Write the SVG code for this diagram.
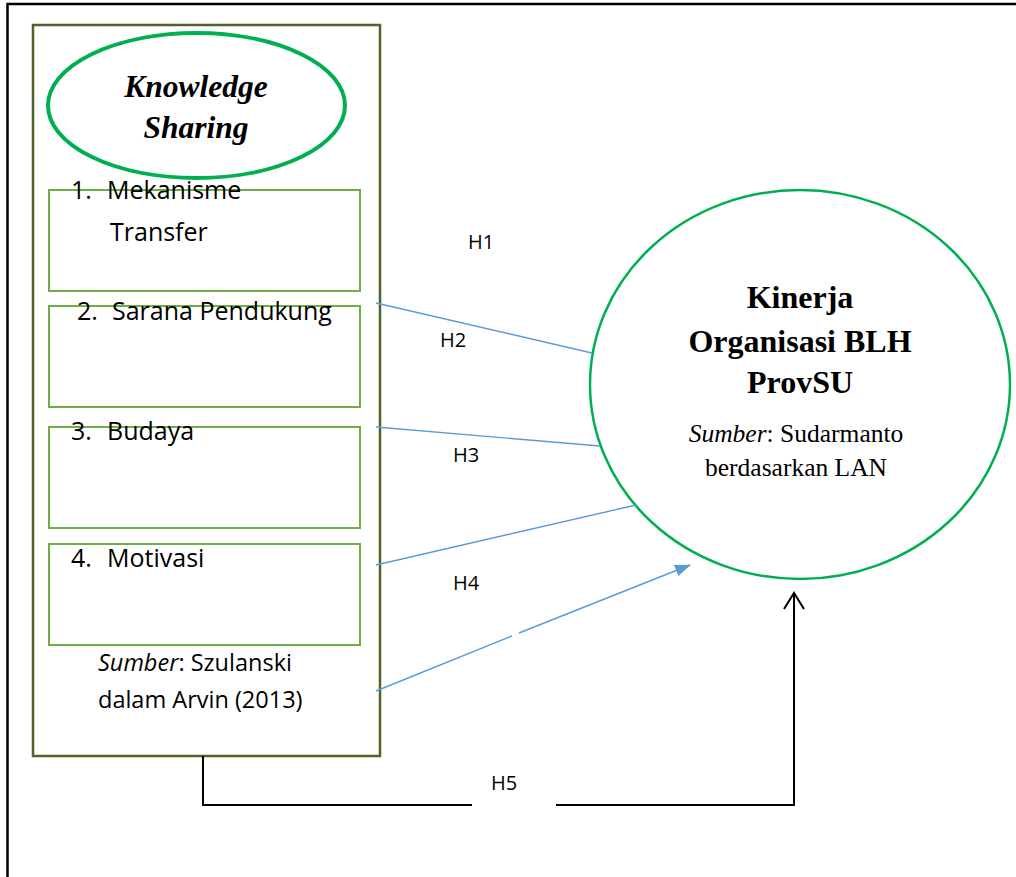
<svg xmlns="http://www.w3.org/2000/svg" width="1016" height="877" viewBox="0 0 1016 877">
<defs>
<style>
.sans{font-family:"Open Sans","Noto Sans",sans-serif;fill:#000}
.serif{font-family:"Liberation Serif","Times New Roman",serif;fill:#000}
.item{fill:#fff;stroke:#70ad47;stroke-width:2}
.blue{stroke:#5b9bd5;stroke-width:1.4;fill:none}
.blk{stroke:#000;stroke-width:2;fill:none}
.h{font-size:20px}
</style>
<marker id="tri" viewBox="0 0 16 12" refX="15" refY="6" markerWidth="16" markerHeight="12" markerUnits="userSpaceOnUse" orient="auto">
<path d="M0,0 L16,6 L0,12 z" fill="#5b9bd5"/>
</marker>
</defs>
<rect width="1016" height="877" fill="#fff"/>
<rect x="7.5" y="4" width="1030" height="900" fill="none" stroke="#000" stroke-width="2.5"/>

<g id="knowledge-sharing">
<rect x="33" y="25" width="347" height="731" fill="#fff" stroke="#4f6228" stroke-width="2.5"/>
<ellipse cx="196.5" cy="105.5" rx="148.5" ry="72.5" fill="#fff" stroke="#00b050" stroke-width="4"/>
<text class="serif" x="196" y="97" font-size="31.5" font-weight="bold" font-style="italic" text-anchor="middle">Knowledge</text>
<text class="serif" x="196" y="138" font-size="31.5" font-weight="bold" font-style="italic" text-anchor="middle">Sharing</text>
</g>

<g id="item1">
<rect class="item" x="49" y="190" width="311" height="101"/>
<text class="sans" x="71" y="199" font-size="25">1.</text>
<text class="sans" x="107" y="199" font-size="25">Mekanisme</text>
<text class="sans" x="110" y="241" font-size="25">Transfer</text>
</g>
<g id="item2">
<rect class="item" x="49" y="306" width="311" height="101"/>
<text class="sans" x="77" y="320" font-size="25">2.</text>
<text class="sans" x="112" y="320" font-size="25">Sarana Pendukung</text>
</g>
<g id="item3">
<rect class="item" x="49" y="427" width="311" height="101"/>
<text class="sans" x="71" y="440" font-size="25">3.</text>
<text class="sans" x="107" y="440" font-size="25">Budaya</text>
</g>
<g id="item4">
<rect class="item" x="49" y="544" width="311" height="101"/>
<text class="sans" x="71" y="567" font-size="25">4.</text>
<text class="sans" x="107" y="567" font-size="25">Motivasi</text>
</g>
<g id="source-left">
<text class="sans" x="98" y="671" font-size="23.5"><tspan font-style="italic">Sumber</tspan>: Szulanski</text>
<text class="sans" x="98" y="708" font-size="23.5">dalam Arvin (2013)</text>
</g>

<g id="kinerja">
<ellipse cx="800" cy="384.5" rx="210" ry="194.5" fill="#fff" stroke="#00b050" stroke-width="2.5"/>
<text class="serif" x="800" y="308" font-size="32" font-weight="bold" text-anchor="middle">Kinerja</text>
<text class="serif" x="800" y="352" font-size="32" font-weight="bold" text-anchor="middle">Organisasi BLH</text>
<text class="serif" x="800" y="393" font-size="32" font-weight="bold" text-anchor="middle">ProvSU</text>
<text class="serif" x="796" y="442" font-size="25.5" text-anchor="middle"><tspan font-style="italic">Sumber</tspan>: Sudarmanto</text>
<text class="serif" x="796" y="476" font-size="25.5" text-anchor="middle">berdasarkan LAN</text>
</g>

<g id="connectors">
<line class="blue" x1="376" y1="303" x2="592" y2="353"/>
<line class="blue" x1="376" y1="427" x2="600" y2="446"/>
<line class="blue" x1="376" y1="565" x2="636" y2="505"/>
<line class="blue" x1="376" y1="691" x2="512" y2="636"/>
<line class="blue" x1="519" y1="633" x2="690" y2="565" marker-end="url(#tri)"/>
<polyline class="blk" points="203,756 203,805 472,805"/>
<polyline class="blk" points="556,805 794,805 794,593"/>
<polyline class="blk" points="784,609 794,593 804,609"/>
<text class="sans h" x="468" y="249">H1</text>
<text class="sans h" x="440" y="347">H2</text>
<text class="sans h" x="453" y="462">H3</text>
<text class="sans h" x="453" y="590">H4</text>
<text class="sans h" x="491" y="790">H5</text>
</g>
</svg>
